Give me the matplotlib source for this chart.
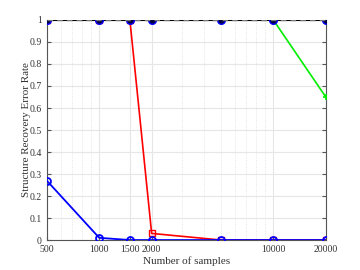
import matplotlib
matplotlib.use("Agg")
import matplotlib.pyplot as plt
from matplotlib.ticker import FixedLocator, NullFormatter

samples = [500, 1000, 1500, 2000, 5000, 10000, 20000]
err_black = [1, 1, 1, 1, 1, 1, 1]
err_dashed = [1, 1, 1, 1, 1, 1, 1]
err_red = [1, 1, 1, 0.03, 0.0, 0.0, 0.0]
err_green = [1, 1, 1, 1, 1, 1, 0.65]
err_blue = [0.27, 0.01, 0.0, 0.0, 0.0, 0.0, 0.0]

xticks = [500, 1000, 1500, 2000, 10000, 20000]
yticks = [0, 0.1, 0.2, 0.3, 0.4, 0.5, 0.6, 0.7, 0.8, 0.9, 1]
ytick_labels = ["0", "0.1", "0.2", "0.3", "0.4", "0.5", "0.6", "0.7", "0.8", "0.9", "1"]

plt.rcParams['font.family'] = ['Liberation Serif', 'DejaVu Serif']

fig = plt.figure(figsize=(3.6, 2.7), dpi=100)
ax = fig.add_axes([0.130, 0.111, 0.775, 0.815])

ax.plot(samples, err_green, color='#00ee00', lw=1.2, marker='+', ms=5, mew=1.2, zorder=3)
ax.plot(samples, err_red, color='red', lw=1.2, marker='s', ms=4, mfc='none', mew=1.0, zorder=4)
ax.plot(samples, err_blue, color='blue', lw=1.3, marker='o', ms=5, mfc='none', mew=1.3, zorder=5)
ax.plot(samples, err_black, color='black', lw=1.5, marker='o', ms=5.5, mfc='#000040', mec='blue', mew=1.0, zorder=6)
ax.plot(samples, err_dashed, color='#777777', lw=1.0, ls=(0, (4, 3)), zorder=7)

ax.set_xscale('log')
ax.set_xlim(500, 20000)
ax.set_ylim(0, 1)
ax.xaxis.set_major_locator(FixedLocator(xticks))
ax.set_xticklabels([str(v) for v in xticks])
minor = [600, 700, 800, 900, 3000, 4000, 5000, 6000, 7000, 8000, 9000]
ax.xaxis.set_minor_locator(FixedLocator(minor))
ax.xaxis.set_minor_formatter(NullFormatter())
ax.set_yticks(yticks)
ax.set_yticklabels(ytick_labels)

ax.grid(True, which='major', color='#e6e6e6', lw=0.8, ls='-')
ax.grid(True, which='minor', axis='x', color='#dddddd', lw=0.6, ls=':')
ax.set_axisbelow(True)

for s in ['left', 'bottom', 'right']:
    ax.spines[s].set_color('#555555')
    ax.spines[s].set_linewidth(0.8)
ax.spines['top'].set_visible(False)
ax.tick_params(which='both', direction='in', labelsize=7, colors='#555555', labelcolor='#333333', right=True, length=3)
ax.tick_params(which='minor', length=0)

ax.set_xlabel('Number of samples', fontsize=8, color='#333333', labelpad=2)
ax.set_ylabel('Structure Recovery Error Rate', fontsize=8, color='#333333', labelpad=-1)

fig.savefig('out.png', dpi=100)
